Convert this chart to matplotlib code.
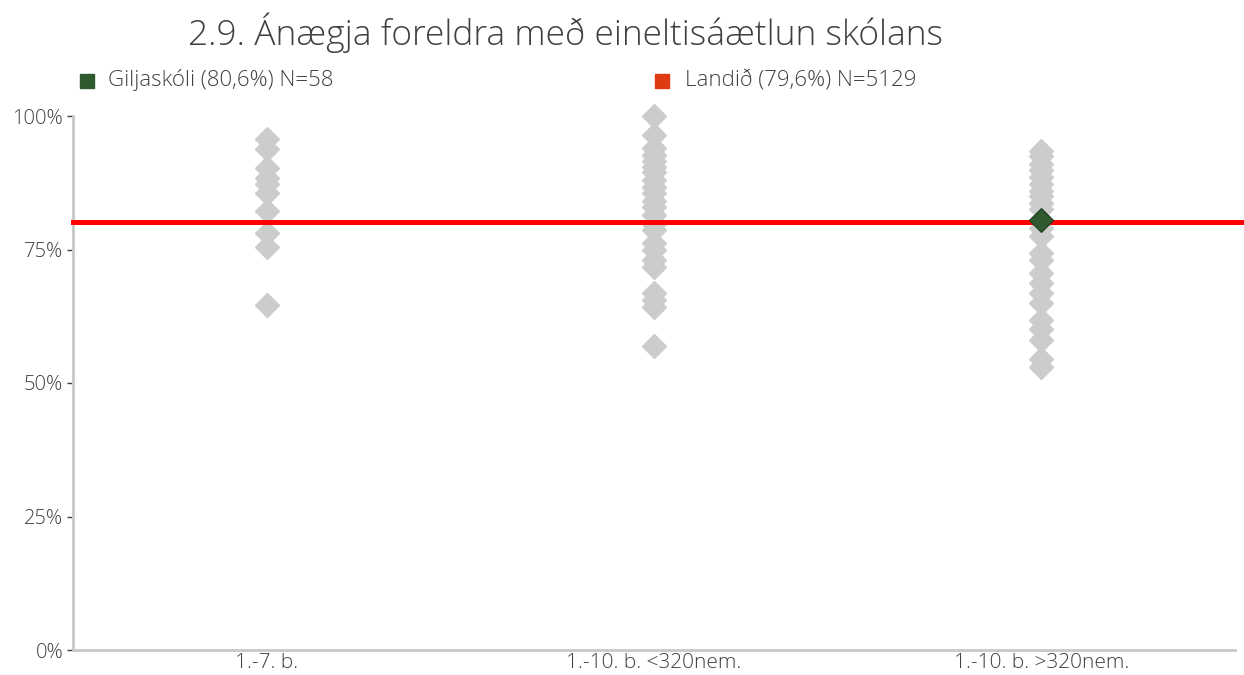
import matplotlib
matplotlib.use("Agg")
import matplotlib.pyplot as plt
from matplotlib.ticker import FixedLocator, FuncFormatter

plt.rcParams['font.family'] = ['Open Sans', 'DejaVu Sans']

title = "2.9. Ánægja foreldra með eineltisáætlun skólans"
categories = ["1.-7. b.", "1.-10. b. <320nem.", "1.-10. b. >320nem."]
cat1 = [95.6, 93.8, 90.3, 88.4, 87.2, 85.6, 82.2, 78.1, 75.5, 64.6]
cat2 = [100.0, 96.4, 94.0, 92.7, 91.5, 90.4, 89.5, 88.0, 86.7, 85.5, 84.0,
        82.9, 81.5, 79.7, 78.7, 76.2, 74.9, 73.0, 71.7, 66.8, 65.5, 64.2, 56.9]
cat3 = [93.5, 92.5, 91.0, 89.8, 88.5, 87.3, 86.0, 85.0, 83.8, 82.5, 80.6,
        79.0, 77.5, 74.3, 73.0, 70.6, 68.7, 66.8, 65.0, 61.8, 60.2, 58.0, 54.5, 53.0]
school_name = "Giljaskóli (80,6%) N=58"
school_cat = 2
school_value = 80.6
country_name = "Landið (79,6%) N=5129"
country_line = 80.1
yticks = [0, 25, 50, 75, 100]

gray = "#cccccc"
green = "#2f5a2f"
red = "#ff0000"
txt = "#404040"

fig = plt.figure(figsize=(12.44, 6.75), dpi=100)
ax = fig.add_axes([73/1244, 25/675, (1235-73)/1244, (650-116)/675])

for i, vals in enumerate([cat1, cat2, cat3]):
    ax.plot([i]*len(vals), vals, linestyle='none', marker='D', ms=12.5,
            color=gray, mec=gray, clip_on=False, zorder=2)
ax.plot([school_cat], [school_value], linestyle='none', marker='D', ms=12.5,
        color=green, mec="#1e3e1e", mew=0.8, clip_on=False, zorder=4)
ax.axhline(country_line, color=red, lw=3.6, zorder=3, xmin=0, xmax=1.008, clip_on=False)

ax.set_xlim(-0.5, 2.5)
ax.set_ylim(0, 100)
ax.set_xticks(range(len(categories)))
ax.set_xticklabels(categories, fontsize=15, color=txt, fontweight='light')
ax.yaxis.set_major_locator(FixedLocator(yticks))
ax.yaxis.set_major_formatter(FuncFormatter(lambda v, p: f"{int(v)}%"))
ax.tick_params(axis='y', labelsize=14.5, colors=txt, length=4, width=1, pad=3)
for lab in ax.get_yticklabels():
    lab.set_fontweight('light')
ax.tick_params(axis='x', length=0, pad=2)
for s in ['top', 'right']:
    ax.spines[s].set_visible(False)
for s in ['left', 'bottom']:
    ax.spines[s].set_color("#c8c8c8")
    ax.spines[s].set_linewidth(2)

fig.text(565/1244, 1 - 33/675, title, ha='center', va='center', fontsize=25.5,
         color=txt, fontweight='light')

# legend
fig.patches.append(plt.Rectangle((80/1244, 1-88/675), 14/1244, 14/675,
                                 transform=fig.transFigure, color=green))
fig.text(108/1244, 1-80/675, school_name, ha='left', va='center', fontsize=16,
         color=txt, fontweight='light')
fig.patches.append(plt.Rectangle((655/1244, 1-88/675), 14/1244, 14/675,
                                 transform=fig.transFigure, color="#e03a12"))
fig.text(685/1244, 1-80/675, country_name, ha='left', va='center', fontsize=16,
         color=txt, fontweight='light')

fig.savefig("out.png", dpi=100)
